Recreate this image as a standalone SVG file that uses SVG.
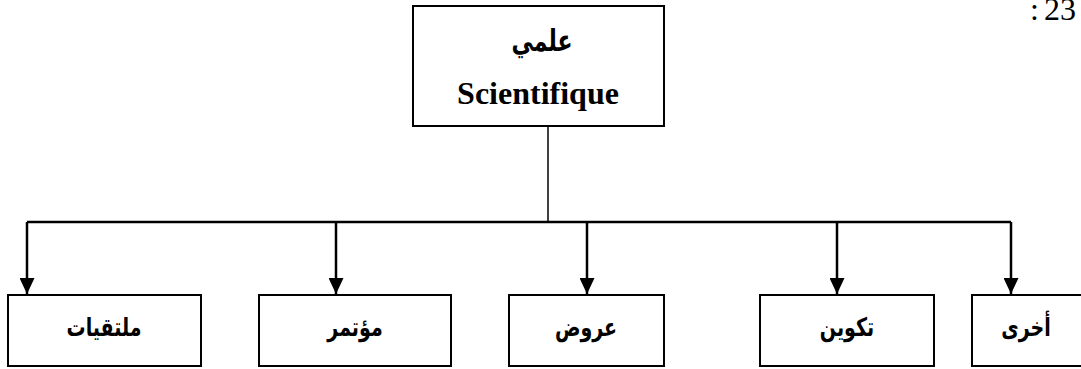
<svg xmlns="http://www.w3.org/2000/svg" width="1081" height="369" viewBox="0 0 1081 369">
<style>
.box{fill:#fff;stroke:#000;stroke-width:2}
.ar{font-family:"DejaVu Sans","Noto Sans",sans-serif;font-weight:bold;font-size:19px;text-anchor:middle;fill:#000}
.lat{font-family:"Liberation Serif","Times New Roman",serif;font-weight:bold;font-size:32px;text-anchor:middle;fill:#000}
.num{font-family:"Liberation Serif","Times New Roman",serif;font-size:32px;fill:#000}
.ln{fill:none;stroke:#000;stroke-width:2.5}
</style>
<defs>
<marker id="ah" markerWidth="16" markerHeight="15" refX="16" refY="7.5" orient="auto" markerUnits="userSpaceOnUse" viewBox="0 0 16 15">
<path d="M0,0 L16,7.5 L0,15 Z" fill="#000"/>
</marker>
</defs>
<text class="num" x="1030" y="20">:</text>
<text class="num" x="1044" y="20">23</text>
<g id="root">
<rect class="box" x="413" y="6" width="251" height="120"/>
<text class="ar" transform="translate(542,51) scale(1,1.35)" style="font-size:22px">علمي</text>
<text class="lat" x="538" y="104">Scientifique</text>
</g>
<g id="connectors">
<line class="ln" x1="548" y1="126" x2="548" y2="222" style="stroke-width:1.5"/>
<line class="ln" x1="27" y1="222" x2="1011" y2="222"/>
<path class="ln" d="M27,222 V294" marker-end="url(#ah)"/>
<path class="ln" d="M336,222 V294" marker-end="url(#ah)"/>
<path class="ln" d="M587,222 V294" marker-end="url(#ah)"/>
<path class="ln" d="M837,222 V294" marker-end="url(#ah)"/>
<path class="ln" d="M1011,222 V294" marker-end="url(#ah)"/>
</g>
<g id="n1">
<rect class="box" x="8" y="295" width="193" height="71"/>
<text class="ar" transform="translate(104,336) scale(1,1.35)">ملتقيات</text>
</g>
<g id="n2">
<rect class="box" x="259" y="295" width="192" height="71"/>
<text class="ar" transform="translate(355,336) scale(1,1.35)">مؤتمر</text>
</g>
<g id="n3">
<rect class="box" x="509" y="295" width="155" height="71"/>
<text class="ar" transform="translate(586,336) scale(1,1.35)">عروض</text>
</g>
<g id="n4">
<rect class="box" x="760" y="295" width="174" height="71"/>
<text class="ar" transform="translate(847,336) scale(1,1.35)">تكوين</text>
</g>
<g id="n5">
<rect class="box" x="972" y="295" width="120" height="71"/>
<text class="ar" transform="translate(1026,336) scale(1,1.35)">أخرى</text>
</g>
</svg>
